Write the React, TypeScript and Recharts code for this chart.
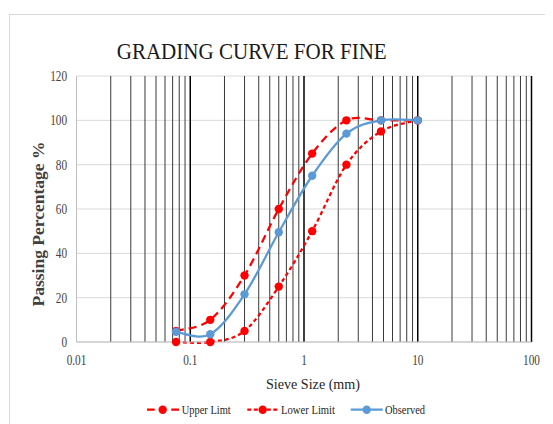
import React from "react";
import { LineChart, Line, XAxis, YAxis, CartesianGrid, ReferenceLine, Label } from "recharts";

// sieve sizes (mm) and passing percentages
const sieveSizes = [0.075, 0.15, 0.3, 0.6, 1.18, 2.36, 4.75, 10];
const upperLimit = [5, 10, 30, 60, 85, 100, 100, 100];
const lowerLimit = [0, 0, 5, 25, 50, 80, 95, 100];
const observed = [4.6, 3.5, 21.5, 49.5, 75, 94, 100, 100];

const xTicks = [0.01, 0.1, 1, 10, 100];
const yTicks = [0, 20, 40, 60, 80, 100, 120];
const decades = [0.01, 0.1, 1, 10];
const gridSteps = [2, 3, 4, 5, 6, 7, 8, 9];

const data = sieveSizes.map((size, i) => ({
  size,
  upper: upperLimit[i],
  lower: lowerLimit[i],
  observed: observed[i],
}));

const serif = "'Liberation Serif', 'Times New Roman', serif";

// Excel-style smoothed line (cubic bezier through the points)
function excelSmooth(context: any) {
  let pts: number[][] = [];
  return {
    areaStart() {},
    areaEnd() {},
    lineStart() {
      pts = [];
    },
    point(x: number, y: number) {
      pts.push([+x, +y]);
    },
    lineEnd() {
      const n = pts.length;
      if (!n) return;
      context.moveTo(pts[0][0], pts[0][1]);
      for (let i = 0; i < n - 1; i++) {
        const p0 = pts[Math.max(i - 1, 0)];
        const p1 = pts[i];
        const p2 = pts[i + 1];
        const p3 = pts[Math.min(i + 2, n - 1)];
        context.bezierCurveTo(
          p1[0] + (p2[0] - p0[0]) / 6,
          p1[1] + (p2[1] - p0[1]) / 6,
          p2[0] - (p3[0] - p1[0]) / 6,
          p2[1] - (p3[1] - p1[1]) / 6,
          p2[0],
          p2[1]
        );
      }
    },
  };
}

const YTick = ({ y, payload }: any) => (
  <text
    transform={`translate(59 ${y + 5}) scale(0.75 1)`}
    textAnchor="end"
    fontFamily={serif}
    fontSize={15}
    fill="#404040"
  >
    {payload.value}
  </text>
);

const XTick = ({ x, payload }: any) => (
  <text
    transform={`translate(${x} 357) scale(0.75 1)`}
    textAnchor="middle"
    fontFamily={serif}
    fontSize={15}
    fill="#404040"
  >
    {payload.value}
  </text>
);

const minorLines = decades.flatMap((d) => gridSteps.map((s) => +(d * s).toPrecision(3)));
const majorLines = [0.1, 1, 10, 100];

export default function App() {
  return (
    <div style={{ position: "relative", width: 545, height: 416, overflow: "hidden", background: "#fff" }}>
      <div
        style={{
          position: "absolute",
          left: 1,
          top: 6,
          width: 700,
          height: 600,
          border: "1px solid #d9d9d9",
        }}
      />
      <div style={{ position: "absolute", left: 0, top: 0 }}>
        <LineChart width={545} height={416} data={data} margin={{ top: 68, right: 21.5, left: 0, bottom: 52 }}>
          <CartesianGrid vertical={false} stroke="#d9d9d9" />
          <XAxis
            dataKey="size"
            type="number"
            scale="log"
            domain={[0.01, 100]}
            ticks={xTicks}
            allowDataOverflow
            tickLine={false}
            axisLine={{ stroke: "#bfbfbf" }}
            height={30}
            tick={<XTick />}
            interval={0}
          >
            <Label
              content={() => (
                <text
                  x={305}
                  y={381}
                  textAnchor="middle"
                  fontFamily={serif}
                  fontSize={14}
                  fill="#262626"
                  textLength={94}
                  lengthAdjust="spacingAndGlyphs"
                >
                  Sieve Size (mm)
                </text>
              )}
            />
          </XAxis>
          <YAxis
            type="number"
            domain={[0, 120]}
            ticks={yTicks}
            width={68.5}
            tickLine={false}
            axisLine={{ stroke: "#bfbfbf" }}
            tick={<YTick />}
            interval={0}
          >
            <Label
              content={() => (
                <text
                  transform="translate(35.5 216) rotate(-90)"
                  textAnchor="middle"
                  fontFamily={serif}
                  fontSize={16}
                  fontWeight="bold"
                  fill="#404040"
                  textLength={165}
                  lengthAdjust="spacingAndGlyphs"
                >
                  Passing Percentage %
                </text>
              )}
            />
          </YAxis>
          {minorLines.map((v) => (
            <ReferenceLine key={`m${v}`} x={v} stroke="#3a3a3a" strokeWidth={1} />
          ))}
          {majorLines.map((v) => (
            <ReferenceLine key={`M${v}`} x={v} stroke="#000" strokeWidth={1.5} />
          ))}
          <Line
            dataKey="upper"
            name="Upper Limt"
            type={excelSmooth as any}
            stroke="#ff0000"
            strokeWidth={2.25}
            strokeDasharray="8 5"
            dot={{ r: 4.2, fill: "#ff0000", stroke: "none", strokeDasharray: "" }}
            isAnimationActive={false}
          />
          <Line
            dataKey="lower"
            name="Lower Limit"
            type={excelSmooth as any}
            stroke="#ff0000"
            strokeWidth={2.25}
            strokeDasharray="4 3"
            dot={{ r: 4.2, fill: "#ff0000", stroke: "none", strokeDasharray: "" }}
            isAnimationActive={false}
          />
          <Line
            dataKey="observed"
            name="Observed"
            type={excelSmooth as any}
            stroke="#5b9bd5"
            strokeWidth={2.25}
            dot={{ r: 4.2, fill: "#5b9bd5", stroke: "none" }}
            isAnimationActive={false}
          />
        </LineChart>
      </div>
      <svg width={545} height={416} style={{ position: "absolute", left: 0, top: 0, pointerEvents: "none" }}>
        <text
          x={108.7}
          y={51.3}
          fontFamily={serif}
          fontSize={24}
          fill="#1a1a1a"
          textLength={270}
          lengthAdjust="spacingAndGlyphs"
        >
          GRADING CURVE FOR FINE
        </text>
        {/* legend */}
        <g fontFamily={serif} fontSize={13.5} fill="#262626">
          <line x1={139} y1={401.7} x2={171} y2={401.7} stroke="#ff0000" strokeWidth={2.25} strokeDasharray="7.7 16.6" />
          <circle cx={154.7} cy={401.7} r={4.2} fill="#ff0000" />
          <text x={173.7} y={406.2} textLength={49} lengthAdjust="spacingAndGlyphs">
            Upper Limt
          </text>
          <line x1={239.3} y1={401.7} x2={270.3} y2={401.7} stroke="#ff0000" strokeWidth={2.25} strokeDasharray="4 2.5" />
          <circle cx={254.7} cy={401.7} r={4.2} fill="#ff0000" />
          <text x={273} y={406.2} textLength={54} lengthAdjust="spacingAndGlyphs">
            Lower Limit
          </text>
          <line x1={342.7} y1={401.7} x2={374.7} y2={401.7} stroke="#5b9bd5" strokeWidth={2.25} />
          <circle cx={358.7} cy={401.7} r={4.2} fill="#5b9bd5" />
          <text x={377} y={406.2} textLength={40} lengthAdjust="spacingAndGlyphs">
            Observed
          </text>
        </g>
      </svg>
    </div>
  );
}
